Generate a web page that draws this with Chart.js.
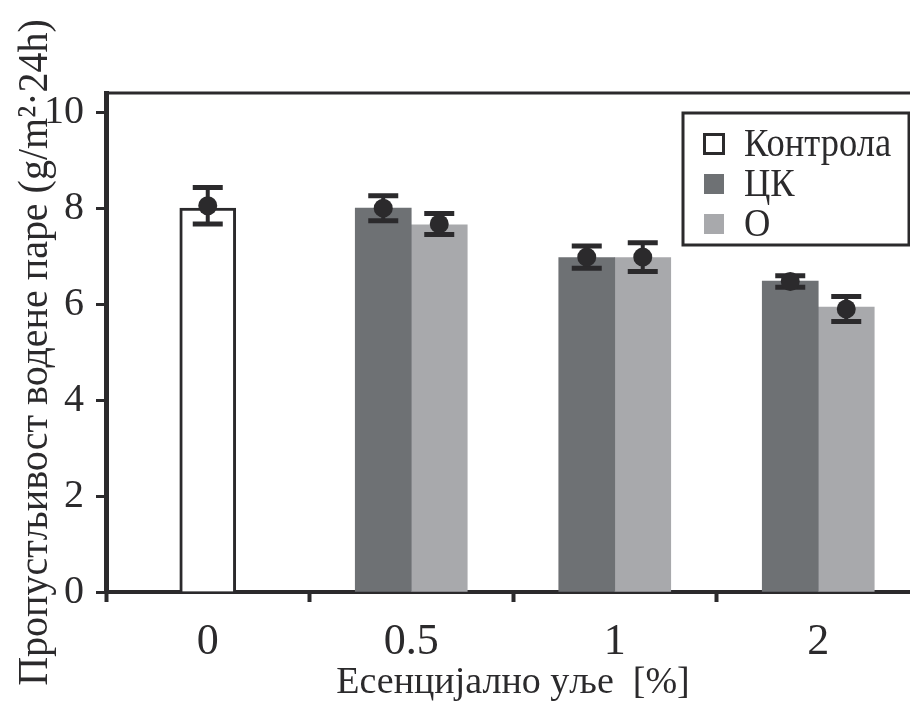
<!DOCTYPE html>
<html>
<head>
<meta charset="UTF-8">
<title>Пропустљивост водене паре</title>
<script src="https://cdn.jsdelivr.net/npm/chart.js"></script>
<style>
  html, body { margin: 0; padding: 0; background: #fff; overflow: hidden; }
  canvas { display: block; }
</style>
</head>
<body>
<canvas id="wvp" width="922" height="702"></canvas>
<script>
  // values
  const categories = ['0', '0.5', '1', '2'];
  const kontrola = [8.0, null, null, null];
  const ck = [null, 8.0, 6.97, 6.48];
  const o = [null, 7.65, 6.97, 5.94];
  const kontrolaMean = [8.05, null, null, null];
  const kontrolaErr = [0.38, null, null, null];
  const ckMean = [null, 8.0, 6.98, 6.47];
  const ckErr = [null, 0.26, 0.23, 0.12];
  const oMean = [null, 7.67, 6.98, 5.9];
  const oErr = [null, 0.22, 0.3, 0.26];
  const yTicks = [0, 2, 4, 6, 8, 10];

  const ink = '#2b2a2c';
  const serif = 'Liberation Serif';

  const errorBars = {
    id: 'errorBars',
    afterDatasetsDraw(chart) {
      const ctx = chart.ctx;
      const y = chart.scales.y;
      chart.data.datasets.forEach((ds, d) => {
        const meta = chart.getDatasetMeta(d);
        ds.means.forEach((m, i) => {
          if (m == null) return;
          const x = meta.data[i].x;
          const yc = y.getPixelForValue(m);
          const yt = y.getPixelForValue(m + ds.errs[i]);
          const yb = y.getPixelForValue(m - ds.errs[i]);
          ctx.save();
          ctx.strokeStyle = ink;
          ctx.fillStyle = ink;
          ctx.lineWidth = 4;
          ctx.beginPath();
          ctx.moveTo(x, yt);
          ctx.lineTo(x, yb);
          ctx.stroke();
          ctx.lineWidth = 5;
          ctx.beginPath();
          ctx.moveTo(x - 15, yt);
          ctx.lineTo(x + 15, yt);
          ctx.moveTo(x - 15, yb);
          ctx.lineTo(x + 15, yb);
          ctx.stroke();
          ctx.beginPath();
          ctx.arc(x, yc, 9.5, 0, Math.PI * 2);
          ctx.fill();
          ctx.restore();
        });
      });
    }
  };

  // top frame line, rotated y title and boxed legend
  const decor = {
    id: 'decor',
    afterDraw(chart) {
      const ctx = chart.ctx;
      const a = chart.chartArea;
      ctx.save();
      ctx.strokeStyle = ink;
      ctx.lineWidth = 3;
      ctx.beginPath();
      ctx.moveTo(a.left - 2, a.top);
      ctx.lineTo(a.right, a.top);
      ctx.stroke();

      ctx.fillStyle = ink;
      ctx.font = '43px "' + serif + '"';
      ctx.textAlign = 'center';
      ctx.textBaseline = 'middle';
      ctx.translate(36, (a.top + a.bottom) / 2 + 10);
      ctx.rotate(-Math.PI / 2);
      ctx.scale(0.93, 1);
      ctx.fillText('Пропустљивост водене паре (g/m²·24h)', 0, 0);
      ctx.restore();

      // legend
      const bx = a.right - 237, by = a.top + 20;
      ctx.save();
      ctx.strokeStyle = ink;
      ctx.lineWidth = 3;
      ctx.strokeRect(bx, by, 226, 132);
      ctx.textBaseline = 'middle';
      ctx.textAlign = 'left';
      chart.data.datasets.forEach((ds, d) => {
        const cy = by + 31 + d * 40;
        if (ds.backgroundColor === '#ffffff') {
          ctx.lineWidth = 3;
          ctx.strokeRect(bx + 21.5, cy - 9.5, 19, 19);
        } else {
          ctx.fillStyle = ds.backgroundColor;
          ctx.fillRect(bx + 21, cy - 10, 20, 20);
        }
        ctx.save();
        ctx.fillStyle = ink;
        ctx.font = '41px "' + serif + '"';
        ctx.translate(bx + 61, cy + 1);
        ctx.scale(0.89, 1);
        ctx.fillText(ds.label, 0, 0);
        ctx.restore();
      });
      ctx.restore();
    }
  };

  new Chart(document.getElementById('wvp'), {
    type: 'bar',
    data: {
      labels: categories,
      datasets: [
        { label: 'Контрола', data: kontrola, means: kontrolaMean, errs: kontrolaErr,
          backgroundColor: '#ffffff', borderColor: ink, borderWidth: 3, borderSkipped: 'bottom' },
        { label: 'ЦК', data: ck, means: ckMean, errs: ckErr,
          backgroundColor: '#6e7174', borderWidth: 0 },
        { label: 'О', data: o, means: oMean, errs: oErr,
          backgroundColor: '#a8a9ac', borderWidth: 0 }
      ]
    },
    options: {
      responsive: false,
      animation: false,
      skipNull: true,
      barThickness: 56,
      layout: { padding: { left: 0, top: 93, right: 2, bottom: 0 } },
      plugins: { legend: { display: false }, tooltip: { enabled: false } },
      scales: {
        x: {
          afterFit(s) { s.height = 110; },
          border: { display: true, color: ink, width: 4 },
          grid: { drawOnChartArea: false, drawTicks: true, tickLength: 10, tickWidth: 4, tickColor: ink },
          ticks: { color: ink, padding: 14, font: { family: serif, size: 44 } },
          title: { display: true, text: 'Есенцијално уље  [%]', color: ink,
                   font: { family: serif, size: 38, lineHeight: 1 }, padding: 0 }
        },
        y: {
          min: 0,
          max: 10.4,
          afterFit(s) { s.width = 106; },
          afterBuildTicks(s) { s.ticks = yTicks.map(v => ({ value: v })); },
          border: { display: true, color: ink, width: 5 },
          grid: { drawOnChartArea: false, drawTicks: true, tickLength: 10, tickWidth: 3, tickColor: ink },
          ticks: { color: ink, padding: 12, font: { family: serif, size: 40 } }
        }
      }
    },
    plugins: [errorBars, decor]
  });
</script>
</body>
</html>
